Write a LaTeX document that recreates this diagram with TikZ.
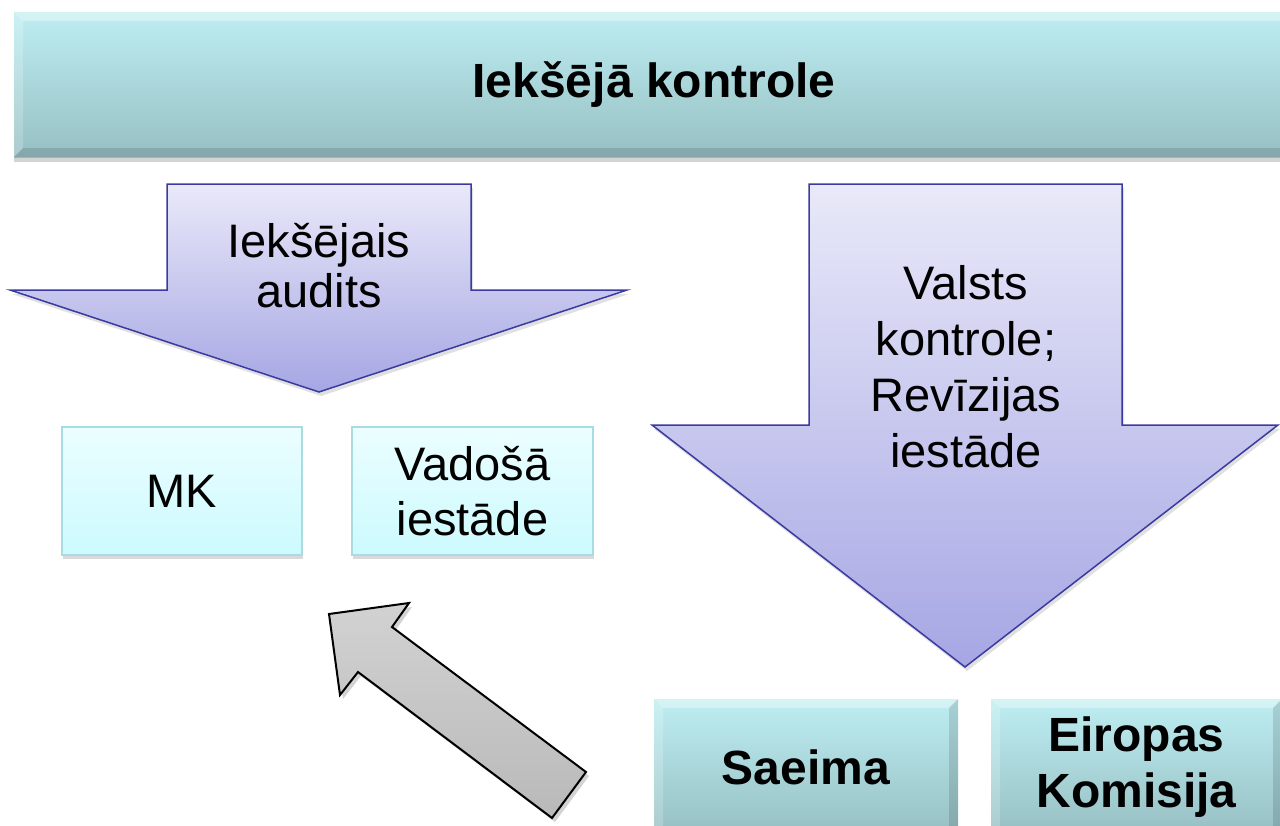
\documentclass[tikz,border=0pt]{standalone}
\usepackage{fontspec}
\setmainfont{Liberation Sans}
\usetikzlibrary{shadows,calc}
\definecolor{bevtop}{HTML}{BEEEF2}
\definecolor{bevbot}{HTML}{96BFC3}
\definecolor{lavtop}{HTML}{E9E9F9}
\definecolor{lavbot}{HTML}{A6A6E4}
\definecolor{lavline}{HTML}{3A3AA0}
\definecolor{cyantop}{HTML}{EBFEFF}
\definecolor{cyanbot}{HTML}{CCFAFE}
\definecolor{cyanline}{HTML}{A8DCE0}
\definecolor{graytop}{HTML}{D2D2D2}
\definecolor{graybot}{HTML}{B9B9B9}
\begin{document}
\begin{tikzpicture}[x=1pt,y=-1pt,
  bevelbox/.style={draw=none, top color=bevtop, bottom color=bevbot, inner sep=0pt, outer sep=0pt,
     align=center, font=\fontsize{48}{56}\selectfont\bfseries,
     drop shadow={opacity=0.35, shadow xshift=0pt, shadow yshift=-5pt}},
  lightbox/.style={draw=cyanline, line width=2pt, top color=cyantop, bottom color=cyanbot, inner sep=0pt,
     align=center, font=\fontsize{47}{55}\selectfont,
     drop shadow={opacity=0.3, shadow xshift=1pt, shadow yshift=-4pt}},
  bigarrow/.style={draw=lavline, line width=1.5pt, top color=lavtop, bottom color=lavbot, line join=miter},
  arrowtext/.style={align=center, font=\fontsize{47}{56}\selectfont},
  grayarrow/.style={draw=black, line width=2pt, top color=graytop, bottom color=graybot, line join=miter,
     drop shadow={opacity=0.35, shadow xshift=3pt, shadow yshift=-4pt}},
  bevlight/.style={fill=white, opacity=0.35, draw=none},
  bevdark/.style={fill=black, opacity=0.12, draw=none},
]
\useasboundingbox (0,0) rectangle (1280,825);

% top box
\node[bevelbox, minimum width=1280pt, minimum height=145pt] (top) at (654,84.5) {Iekšējā kontrole};
\fill[bevlight] (top.north west) -- (top.north east) -- ([shift={(-9,9)}]top.north east) -- ([shift={(9,9)}]top.north west) -- cycle;
\fill[bevlight, opacity=0.2] (top.north west) -- ([shift={(9,9)}]top.north west) -- ([shift={(9,-9)}]top.south west) -- (top.south west) -- cycle;
\fill[bevdark] (top.south west) -- (top.south east) -- ([shift={(-9,-9)}]top.south east) -- ([shift={(9,-9)}]top.south west) -- cycle;

% left big arrow
\coordinate (la1) at (167,184);
\coordinate (la2) at (471,184);
\coordinate (la3) at (471,290);
\coordinate (la4) at (627,290);
\coordinate (latip) at (319,392);
\coordinate (la6) at (10,290);
\coordinate (la7) at (167,290);
\fill[black, opacity=0.12] ([shift={(2,4)}]la1) -- ([shift={(2,4)}]la2) -- ([shift={(2,4)}]la3) -- ([shift={(2,4)}]la4) -- ([shift={(2,4)}]latip) -- ([shift={(2,4)}]la6) -- ([shift={(2,4)}]la7) -- cycle;
\path[bigarrow] (la1) -- (la2) -- (la3) -- (la4) -- (latip) -- (la6) -- (la7) -- cycle;
\node[arrowtext, font=\fontsize{47}{50}\selectfont] (latext) at (319,266) {Iekšējais\\audits};

% right big arrow
\coordinate (ra1) at (809,184);
\coordinate (ra2) at (1122,184);
\coordinate (ra3) at (1122,425);
\coordinate (ra4) at (1278,425);
\coordinate (ratip) at (965,667);
\coordinate (ra6) at (652,425);
\coordinate (ra7) at (809,425);
\fill[black, opacity=0.12] ([shift={(2,4)}]ra1) -- ([shift={(2,4)}]ra2) -- ([shift={(2,4)}]ra3) -- ([shift={(2,4)}]ra4) -- ([shift={(2,4)}]ratip) -- ([shift={(2,4)}]ra6) -- ([shift={(2,4)}]ra7) -- cycle;
\path[bigarrow] (ra1) -- (ra2) -- (ra3) -- (ra4) -- (ratip) -- (ra6) -- (ra7) -- cycle;
\node[arrowtext] (ratext) at (966,367) {Valsts\\kontrole;\\Revīzijas\\iestāde};

% light boxes
\node[lightbox, minimum width=240pt, minimum height=128pt] (mk) at (182,491) {MK};
\node[lightbox, minimum width=241pt, minimum height=128pt] (vad) at (472.5,491) {Vadošā\\iestāde};

% bottom bevel boxes
\node[bevelbox, minimum width=304pt, minimum height=136pt] (saeima) at (806,767) {Saeima};
\node[bevelbox, minimum width=291pt, minimum height=136pt] (ek) at (1136.5,767) {Eiropas\\Komisija};
\foreach \b in {saeima,ek}{
  \fill[bevlight] (\b.north west) -- (\b.north east) -- ([shift={(-9,9)}]\b.north east) -- ([shift={(9,9)}]\b.north west) -- cycle;
  \fill[bevlight, opacity=0.2] (\b.north west) -- ([shift={(9,9)}]\b.north west) -- ([shift={(9,-9)}]\b.south west) -- (\b.south west) -- cycle;
  \fill[bevdark] (\b.north east) -- ([shift={(-9,9)}]\b.north east) -- ([shift={(-9,-9)}]\b.south east) -- (\b.south east) -- cycle;
}

% gray arrow
\coordinate (gtip) at (329,614);
\coordinate (gbr) at (409,603);
\coordinate (gnr) at (392,627);
\coordinate (gtr) at (586,772);
\coordinate (gtb) at (552,818);
\coordinate (gnl) at (358,672);
\coordinate (gbl) at (340,695);
\path[grayarrow] (gtip) -- (gbr) -- (gnr) -- (gtr) -- (gtb) -- (gnl) -- (gbl) -- cycle;
\end{tikzpicture}
\end{document}
